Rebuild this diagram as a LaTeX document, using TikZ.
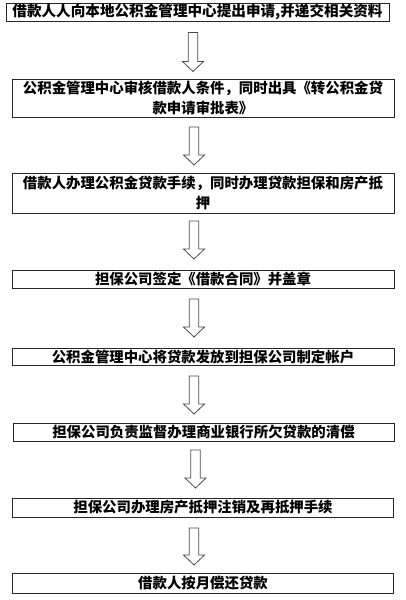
\documentclass[tikz,border=0pt]{standalone}
\usepackage{fontspec}
\newfontfamily\cjk{Noto Sans CJK SC}
\usetikzlibrary{calc}
\tikzset{
  box/.style={draw=black!85, line width=1pt, inner sep=0pt, align=center,
    font=\cjk\bfseries\fontsize{14.4}{19.5}\selectfont, text=black},
  blockarrow/.style={draw=black!70, line width=0.8pt, fill=white, line join=miter}
}
\newcommand\flowarrow[2]{%
  \draw[blockarrow] let \p1=(#1), \p2=(#2) in
    (\x1-4.75pt,\y1) -- (\x1+4.75pt,\y1) -- (\x1+4.75pt,\y2+10pt) --
    (\x1+10.5pt,\y2+10pt) -- (\x2,\y2) -- (\x1-10.5pt,\y2+10pt) --
    (\x1-4.75pt,\y2+10pt) -- cycle;}
\begin{document}
\begin{tikzpicture}[x=1pt,y=-1pt]
\fill[white] (0,0) rectangle (406,600);
\useasboundingbox (0,0) rectangle (406,600);

\node[box, minimum width=383pt, minimum height=18pt,
  font=\cjk\bfseries\fontsize{14.6}{19.5}\selectfont] (b1) at (197.5,12)
  {借款人人向本地公积金管理中心提出申请,并递交相关资料};
\node[box, minimum width=382pt, minimum height=38pt] (b2) at (203,98)
  {公积金管理中心审核借款人条件，同时出具《转公积金贷\\款申请审批表》};
\node[box, minimum width=382pt, minimum height=40pt] (b3) at (203,193)
  {借款人办理公积金贷款手续，同时办理贷款担保和房产抵\\押};
\node[box, minimum width=382pt, minimum height=18pt] (b4) at (203,279)
  {担保公司签定《借款合同》并盖章};
\node[box, minimum width=382pt, minimum height=17pt] (b5) at (203,357)
  {公积金管理中心将贷款发放到担保公司制定帐户};
\node[box, minimum width=381pt, minimum height=18pt] (b6) at (203.5,432)
  {担保公司负责监督办理商业银行所欠贷款的清偿};
\node[box, minimum width=381pt, minimum height=19pt] (b7) at (203,507.5)
  {担保公司办理房产抵押注销及再抵押手续};
\node[box, minimum width=381pt, minimum height=20pt] (b8) at (203,583.5)
  {借款人按月偿还贷款};

\coordinate (a1s) at (193,32.5);  \coordinate (a1e) at (193,71.5);
\coordinate (a2s) at (194,127);   \coordinate (a2e) at (194,165);
\coordinate (a3s) at (194,221);   \coordinate (a3e) at (194,259);
\coordinate (a4s) at (194,299);   \coordinate (a4e) at (194,337);
\coordinate (a5s) at (194,376);   \coordinate (a5e) at (194,414);
\coordinate (a6s) at (195.5,450); \coordinate (a6e) at (195.5,488);
\coordinate (a7s) at (194,528);   \coordinate (a7e) at (194,565);

\flowarrow{a1s}{a1e}
\flowarrow{a2s}{a2e}
\flowarrow{a3s}{a3e}
\flowarrow{a4s}{a4e}
\flowarrow{a5s}{a5e}
\flowarrow{a6s}{a6e}
\flowarrow{a7s}{a7e}
\end{tikzpicture}
\end{document}
